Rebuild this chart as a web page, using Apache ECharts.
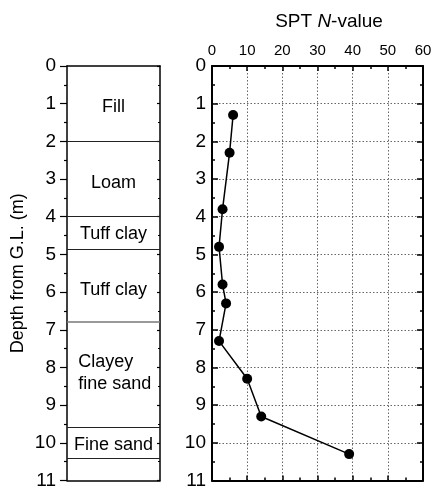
<!DOCTYPE html>
<html><head><meta charset="utf-8">
<script src="https://cdn.jsdelivr.net/npm/echarts@6/dist/echarts.min.js"></script>
<style>html,body{margin:0;padding:0;background:#fff}#c{width:435px;height:490px}</style>
</head><body><div id="c"></div>
<script>
// ---- data ----
const depthTicks = [0,1,2,3,4,5,6,7,8,9,10,11];
const nTicks = [0,10,20,30,40,50,60];
const sptDepths = [1.3, 2.3, 3.8, 4.8, 5.8, 6.3, 7.3, 8.3, 9.3, 10.3];
const nValues   = [6,   5,   3,   2,   3,   4,   2,   10,  14,  39];
const layerBounds = [2, 4, 4.85, 6.8, 9.6, 10.4];
const layerNames = ['Fill', 'Loam', 'Tuff clay', 'Tuff clay', 'Clayey\nfine sand', 'Fine sand'];
const layerLabelDepths = [1.1, 3.1, 4.45, 5.95, 8.15, 10.05];
const yName = 'Depth from G.L. (m)';

const FONT = 'Liberation Sans, Arial, sans-serif';
const chart = echarts.init(document.getElementById('c'), null, {renderer:'canvas'});

const yBase = {
  type:'value', inverse:true, min:depthTicks[0], max:depthTicks[depthTicks.length-1], interval:1,
  axisLine:{show:true, onZero:false, lineStyle:{color:'#000', width:1.5}},
  splitLine:{show:false}
};
const lblStyle = {color:'#000', fontSize:19, fontFamily:FONT};

const layerLabelData = layerNames.map((n,i)=>{
  const multi = n.indexOf('\n')>=0;
  return {value:[multi?0.12:0.5, layerLabelDepths[i]], name:n,
    label:{align: multi?'left':'center'}};
});

const option = {
  animation:false,
  backgroundColor:'#fff',
  title:{text:'SPT {i|N}-value', left:324, top:7, textAlign:'center',
    textStyle:{fontSize:19, fontWeight:'normal', color:'#000', fontFamily:FONT,
      rich:{i:{fontStyle:'italic', fontSize:19, fontFamily:FONT, color:'#000'}}}},
  grid:[
    {left:67, top:66, width:93, height:418},
    {left:212, top:66, width:211, height:418}
  ],
  xAxis:[
    {gridIndex:0, type:'value', min:0, max:1, position:'top', axisLine:{show:true, onZero:false, lineStyle:{color:'#000',width:1.5}}, axisTick:{show:false}, axisLabel:{show:false}, splitLine:{show:false}},
    {gridIndex:0, type:'value', min:0, max:1, position:'bottom', axisLine:{show:true, onZero:false, lineStyle:{color:'#000',width:1.5}}, axisTick:{show:false}, axisLabel:{show:false}, splitLine:{show:false}},
    {gridIndex:1, type:'value', min:nTicks[0], max:nTicks[nTicks.length-1], interval:10, position:'top',
      axisLine:{show:true, onZero:false, lineStyle:{color:'#000',width:2}},
      axisTick:{show:true, inside:true, length:5, lineStyle:{color:'#000',width:1.5}},
      minorTick:{show:true, splitNumber:2, length:3, lineStyle:{color:'#000',width:1.5}},
      axisLabel:{show:true, margin:8, color:'#000', fontFamily:FONT, fontSize:15},
      splitLine:{show:true, lineStyle:{color:'#666', type:[1.5,2], width:1}}},
    {gridIndex:1, type:'value', min:nTicks[0], max:nTicks[nTicks.length-1], interval:10, position:'bottom',
      axisLine:{show:true, onZero:false, lineStyle:{color:'#000',width:2}},
      axisTick:{show:true, inside:true, length:5, lineStyle:{color:'#000',width:1.5}},
      minorTick:{show:true, splitNumber:2, length:3, lineStyle:{color:'#000',width:1.5}},
      axisLabel:{show:false}, splitLine:{show:false}}
  ],
  yAxis:[
    {...yBase, gridIndex:0, position:'left',
      name:yName, nameLocation:'middle', nameGap:40, nameRotate:90,
      nameTextStyle:{color:'#000', fontSize:18, fontFamily:FONT},
      axisTick:{show:true, inside:false, length:7, lineStyle:{color:'#000',width:1.2}},
      minorTick:{show:true, splitNumber:2, length:3, lineStyle:{color:'#000',width:1.2}},
      axisLabel:{show:true, margin:11, ...lblStyle}},
    {...yBase, gridIndex:0, position:'right',
      axisTick:{show:true, inside:true, length:3, lineStyle:{color:'#000',width:1.2}},
      minorTick:{show:true, splitNumber:2, length:2, lineStyle:{color:'#000',width:1.2}},
      axisLabel:{show:false}},
    {...yBase, gridIndex:1, position:'left',
      axisLine:{show:true, onZero:false, lineStyle:{color:'#000', width:2}},
      axisTick:{show:true, inside:true, length:6, lineStyle:{color:'#000',width:1.5}},
      minorTick:{show:true, splitNumber:2, length:3, lineStyle:{color:'#000',width:1.5}},
      axisLabel:{show:true, margin:6, ...lblStyle},
      splitLine:{show:true, lineStyle:{color:'#666', type:[1.5,2], width:1}}},
    {...yBase, gridIndex:1, position:'right',
      axisLine:{show:true, onZero:false, lineStyle:{color:'#000', width:2}},
      axisTick:{show:true, inside:true, length:6, lineStyle:{color:'#000',width:1.5}},
      minorTick:{show:true, splitNumber:2, length:3, lineStyle:{color:'#000',width:1.5}},
      axisLabel:{show:false}}
  ],
  series:[
    {type:'scatter', xAxisIndex:0, yAxisIndex:0, symbolSize:0, silent:true,
      itemStyle:{color:'#000', opacity:1},
      data:layerLabelData,
      label:{show:true, position:'inside', formatter:p=>p.name, color:'#000', fontSize:18, fontFamily:FONT, lineHeight:22,
        textBorderWidth:0, textBorderColor:'transparent', textShadowBlur:0, opacity:1},
      markLine:{silent:true, symbol:['none','none'], label:{show:false},
        data:layerBounds.map((d,i)=>({yAxis:d, lineStyle:{color: d===6.8?'#777':'#222', width: d===6.8?1.5:1, type:'solid'}}))}
    },
    {type:'line', xAxisIndex:2, yAxisIndex:2, data:nValues.map((v,i)=>[v, sptDepths[i]]),
      symbol:'circle', symbolSize:10, itemStyle:{color:'#000'},
      lineStyle:{color:'#000', width:1.5}, z:5}
  ]
};
chart.setOption(option);
</script></body></html>
